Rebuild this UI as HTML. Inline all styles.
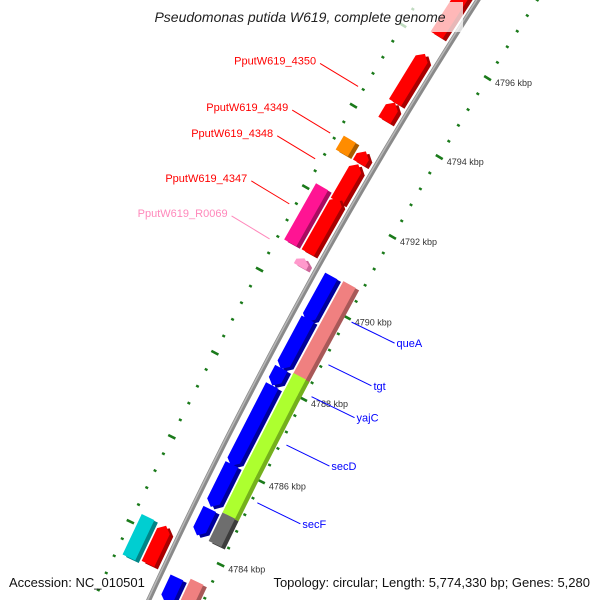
<!DOCTYPE html>
<html><head><meta charset="utf-8"><style>
html,body{margin:0;padding:0;background:#fff;overflow:hidden;width:600px;height:600px;}
svg{display:block;font-family:"Liberation Sans","DejaVu Sans",sans-serif;overflow:hidden;}
</style></head><body>
<svg id="map" width="600" height="600" viewBox="0 0 600 600" xmlns="http://www.w3.org/2000/svg">
<g id="ticks"></g>
<path id="backbone" fill="none" stroke="#8a8a8a" stroke-width="5"></path>
<path id="backbone-hl" fill="none" stroke="#b8b8b8" stroke-width="1.5"></path>
<g id="genes"></g>
<g id="labels"></g>
<rect x="137" y="2" width="326" height="30" fill="rgba(255,255,255,0.72)"></rect>
<text x="300" y="22" text-anchor="middle" font-size="14" font-style="italic" fill="#222">Pseudomonas putida W619, complete genome</text>
<text x="9" y="587" font-size="13" fill="#111">Accession: NC_010501</text>
<text x="590" y="587" text-anchor="end" font-size="13" fill="#111">Topology: circular; Length: 5,774,330 bp; Genes: 5,280</text>
</svg>
<script>
// Data
const geneNames = ["g-top","PputW619_4350","g-4350b","PputW619_4348","PputW619_4347","g-red-lower","PputW619_R0069","PputW619_4349","g-magenta","g-cyan","g-red-bottom","g-blue1","g-blue2","g-blue3","g-blue4","g-blue5","g-blue6","g-blue7","queA","yajC","secD","secF","g-gray","g-pink-bottom"];
const geneStart = [4796.20,4794.51,4794.07,4793.01,4792.07,4790.81,4790.47,4793.01,4790.81,4783.30,4783.35,4789.50,4788.35,4787.95,4786.01,4785.03,4784.35,4782.75,4788.35,4787.91,4786.01,4785.03,4784.35,4782.95];
const geneEnd   = [4798.85,4795.73,4794.51,4793.30,4792.98,4792.15,4790.67,4793.35,4792.18,4784.25,4784.25,4790.62,4789.57,4788.37,4787.95,4786.05,4784.98,4783.35,4790.65,4788.40,4788.01,4786.05,4785.03,4783.45];
const geneStrand = [1,1,1,1,1,1,1,0,0,0,1,-1,-1,-1,-1,-1,-1,-1,0,0,0,0,0,0];
const geneTrack  = [1,1,1,1,1,1,1,2,2,2,1,-1,-1,-1,-1,-1,-1,-1,-2,-2,-2,-2,-2,-2];
const geneColor  = ["red","red","red","red","red","red","lpink","orange","magenta","cyan","red","blue","blue","blue","blue","blue","blue","blue","pink","green","green","green","gray","pink"];
const tickStart = 4782.4, tickEnd = 4799.6, tickStep = 0.4;
const majorLabels = [4784,4786,4788,4790,4792,4794,4796];
const labelText = ["PputW619_4350","PputW619_4349","PputW619_4348","PputW619_4347","PputW619_R0069","queA","tgt","yajC","secD","secF"];
const labelKbp  = [4794.40,4793.25,4792.62,4791.52,4790.67,4789.96,4788.91,4788.13,4786.95,4785.55];
const labelSide = [1,1,1,1,1,-1,-1,-1,-1,-1];
const labelColor= ["#ff0000","#ff0000","#ff0000","#ff0000","#ff88bb","#0000ff","#0000ff","#0000ff","#0000ff","#0000ff"];

// Scales
const CX=4644, CY=2675, R=4951;
const palette={red:["#ff0000","#a80000"],blue:["#0000ff","#00009a"],pink:["#f08080","#a85858"],green:["#adff2f","#74b01c"],magenta:["#ff1493","#a80c60"],orange:["#ff8c00","#a85c00"],cyan:["#00ced1","#008587"],gray:["#6e6e6e","#3c3c3c"],lpink:["#ff99cc","#cc6699"]};
function ang(k){return (212.7-(4797.30-k)*0.541)*Math.PI/180;}
function P(k,off){const t=ang(k),r=R+off;return [CX+r*Math.cos(t),CY+r*Math.sin(t)];}
function trackOff(t){return t===1?16:t===2?36:t===-1?-16:-36;}
const NS="http://www.w3.org/2000/svg";
function mk(tag,attrs,parent){const e=document.createElementNS(NS,tag);for(const a in attrs)e.setAttribute(a,attrs[a]);parent.appendChild(e);return e;}

// backbone
let d="";for(let k=4781.5;k<=4800;k+=0.5){const p=P(k,0);d+=(d?"L":"M")+p[0].toFixed(1)+","+p[1].toFixed(1);}
document.getElementById("backbone").setAttribute("d",d);
let d2="";for(let k=4781.5;k<=4800;k+=0.5){const p=P(k,1);d2+=(d2?"L":"M")+p[0].toFixed(1)+","+p[1].toFixed(1);}
document.getElementById("backbone-hl").setAttribute("d",d2);

// ticks
const tg=document.getElementById("ticks");
const nT=Math.round((tickEnd-tickStart)/tickStep);
for(let i=0;i<=nT;i++){
  const k=tickStart+i*tickStep;
  const major=majorLabels.some(m=>Math.abs(m-k)<0.05);
  const len=major?4:1.5;
  [50,-50].forEach(o=>{
    const a=P(k,o-len),b=P(k,o+len);
    const ln=mk("line",{x1:a[0],y1:a[1],x2:b[0],y2:b[1],stroke:"#1a7a1a","stroke-width":major?2.6:2.4},tg);
    
    
  });
}
majorLabels.forEach(m=>{
  const p=P(m,-54);
  const t=mk("text",{x:p[0]+4,y:p[1]+6,"font-size":"9",fill:"#333"},tg);
  t.textContent=m+" kbp";
  
  
});

// genes
const gg=document.getElementById("genes");
geneNames.forEach((n,i)=>{
  const k1=geneStart[i],k2=geneEnd[i],off=trackOff(geneTrack[i]),h=7,dir=geneStrand[i];
  const head=Math.min(0.13,(k2-k1)*0.45);
  let pts;
  if(dir===1){pts=[P(k1,off-h),P(k1,off+h),P(k2-head,off+h),P(k2,off),P(k2-head,off-h)];}
  else if(dir===-1){pts=[P(k2,off-h),P(k2,off+h),P(k1+head,off+h),P(k1,off),P(k1+head,off-h)];}
  else{pts=[P(k1,off-h),P(k1,off+h),P(k2,off+h),P(k2,off-h)];}
  const c=palette[geneColor[i]];
  const sh=mk("polygon",{points:pts.map(p=>(p[0]+3.5)+","+(p[1]+2.5)).join(" "),fill:c[1]},gg);
  
  
  const f=mk("polygon",{points:pts.map(p=>p[0]+","+p[1]).join(" "),fill:c[0]},gg);
  
  
});

// labels
const lg=document.getElementById("labels");
labelText.forEach((s,i)=>{
  const side=labelSide[i],k=labelKbp[i];
  const a=P(k,side*56);
  const dx=side===1?-38:43, dy=side===1?-23:21;
  const b=[a[0]+dx,a[1]+dy];
  const l=mk("line",{x1:a[0],y1:a[1],x2:b[0],y2:b[1],stroke:labelColor[i],"stroke-width":1},lg);
  
  
  const t=mk("text",{x:side===1?b[0]-4:b[0]+2,y:b[1]+(side===1?1:4),"text-anchor":side===1?"end":"start","font-size":"11",fill:labelColor[i]},lg);
  t.textContent=s;
  
  
});
</script>
</body></html>
